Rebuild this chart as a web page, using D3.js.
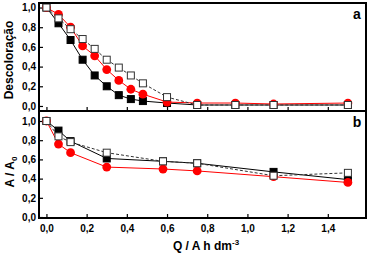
<!DOCTYPE html>
<html><head><meta charset="utf-8">
<script src="https://cdn.jsdelivr.net/npm/d3@7"></script>
<style>html,body{margin:0;padding:0;background:#fff;}svg{display:block;font-family:"Liberation Sans",Arial,sans-serif;}</style>
</head><body><svg id="c" width="370" height="258"></svg>
<script>
// ---- data ----
const qA = [0, 0.06, 0.12, 0.18, 0.24, 0.30, 0.36, 0.42, 0.48, 0.60, 0.75, 0.94, 1.13, 1.50];
const aBlack = [1.0, 0.84, 0.67, 0.47, 0.31, 0.20, 0.11, 0.07, 0.05, 0.03, 0.01, 0.01, 0.01, 0.01];
const aRed   = [1.0, 0.93, 0.80, 0.61, 0.51, 0.37, 0.26, 0.17, 0.12, 0.04, 0.03, 0.03, 0.02, 0.03];
const aOpen  = [1.0, 0.89, 0.78, 0.68, 0.58, 0.47, 0.39, 0.31, 0.23, 0.09, 0.01, 0.01, 0.01, 0.01];
const qB = [0, 0.06, 0.12, 0.30, 0.58, 0.75, 1.13, 1.50];
const bBlack = [1.0, 0.90, 0.79, 0.61, 0.58, 0.56, 0.47, 0.39];
const bRed   = [1.0, 0.76, 0.67, 0.52, 0.50, 0.48, 0.42, 0.36];
const bOpen  = [1.0, 0.84, 0.78, 0.67, 0.58, 0.56, 0.43, 0.46];
const xTicks = [0, 0.2, 0.4, 0.6, 0.8, 1.0, 1.2, 1.4];
const yTicks = [0, 0.2, 0.4, 0.6, 0.8, 1.0];
const panelLabels = ["a", "b"];

const svg = d3.select("#c");
const L = 39, R = 366;
const x = d3.scaleLinear().domain([-0.037, 1.59]).range([L, R]);
const fmt = v => d3.format(".1f")(v).replace(".", ",");

const panels = [
  {top: 3, bottom: 111, y: d3.scaleLinear().domain([-0.051, 1.046]).range([111, 3]),
   q: qA, series: [aBlack, aRed, aOpen], label: panelLabels[0], showX: false},
  {top: 111, bottom: 218, y: d3.scaleLinear().domain([-0.01, 1.104]).range([218, 111]),
   q: qB, series: [bBlack, bRed, bOpen], label: panelLabels[1], showX: true}
];

const styles = [
  {line: "#000", dash: null, marker: "sq", fill: "#000", stroke: "#000"},
  {line: "#ff0000", dash: null, marker: "ci", fill: "#ff0000", stroke: "#ff0000"},
  {line: "#333", dash: "3,2", marker: "sq", fill: "#fff", stroke: "#333"}
];

panels.forEach(p => {
  const g = svg.append("g");
  const xa = d3.axisBottom(x).tickValues(xTicks).tickSizeInner(-4).tickSizeOuter(0)
    .tickFormat(p.showX ? fmt : "");
  const gx = g.append("g").attr("transform", `translate(0,${p.bottom})`).call(xa);
  gx.select(".domain").remove();
  gx.selectAll("line").attr("stroke", "#000").attr("stroke-width", 1.2);
  gx.selectAll("text").attr("dy", "0").attr("y", 14).attr("font-size", 10).attr("font-weight", "bold")
    .attr("font-family", "Liberation Sans, Arial, sans-serif").attr("fill", "#000");
  const ya = d3.axisLeft(p.y).tickValues(yTicks).tickSizeInner(-4).tickSizeOuter(0).tickFormat(fmt);
  const gy = g.append("g").attr("transform", `translate(${L},0)`).call(ya);
  gy.select(".domain").remove();
  gy.selectAll("line").attr("stroke", "#000").attr("stroke-width", 1.2);
  gy.selectAll("text").attr("x", -3).attr("font-size", 10).attr("font-weight", "bold")
    .attr("font-family", "Liberation Sans, Arial, sans-serif").attr("fill", "#000");

  p.series.forEach((vals, i) => {
    const st = styles[i];
    const pts = p.q.map((q, k) => [q, vals[k]]);
    g.append("path").datum(pts)
      .attr("d", d3.line().x(d => x(d[0])).y(d => p.y(d[1])))
      .attr("fill", "none").attr("stroke", st.line).attr("stroke-width", 1)
      .attr("stroke-dasharray", st.dash);
  });
  p.series.forEach((vals, i) => {
    const st = styles[i];
    const pts = p.q.map((q, k) => [q, vals[k]]);
    if (st.marker === "sq") {
      g.selectAll(null).data(pts).enter().append("rect")
        .attr("x", d => x(d[0]) - 3.5).attr("y", d => p.y(d[1]) - 3.5)
        .attr("width", 7).attr("height", 7)
        .attr("fill", st.fill).attr("stroke", st.stroke).attr("stroke-width", 1);
    } else {
      g.selectAll(null).data(pts).enter().append("circle")
        .attr("cx", d => x(d[0])).attr("cy", d => p.y(d[1])).attr("r", 4.4)
        .attr("fill", st.fill);
    }
  });
  g.append("rect").attr("x", L).attr("y", p.top).attr("width", R - L).attr("height", p.bottom - p.top)
    .attr("fill", "none").attr("stroke", "#000").attr("stroke-width", 2);
  g.append("text").attr("x", 357).attr("y", p.top + 16).attr("text-anchor", "middle")
    .attr("font-size", 14).attr("font-weight", "bold").text(p.label);
});

svg.append("text").attr("transform", "translate(13,60) rotate(-90)").attr("text-anchor", "middle")
  .attr("font-size", 12).attr("font-weight", "bold").text("Descoloração");
const t2 = svg.append("text").attr("transform", "translate(14,172) rotate(-90)").attr("text-anchor", "middle")
  .attr("font-size", 12).attr("font-weight", "bold");
t2.append("tspan").text("A / A");
t2.append("tspan").attr("font-size", 8).attr("dy", 3).text("0");
const t3 = svg.append("text").attr("x", 206).attr("y", 250).attr("text-anchor", "middle")
  .attr("font-size", 12).attr("font-weight", "bold");
t3.append("tspan").text("Q / A h dm");
t3.append("tspan").attr("font-size", 8).attr("dy", -5).text("-3");
</script></body></html>
